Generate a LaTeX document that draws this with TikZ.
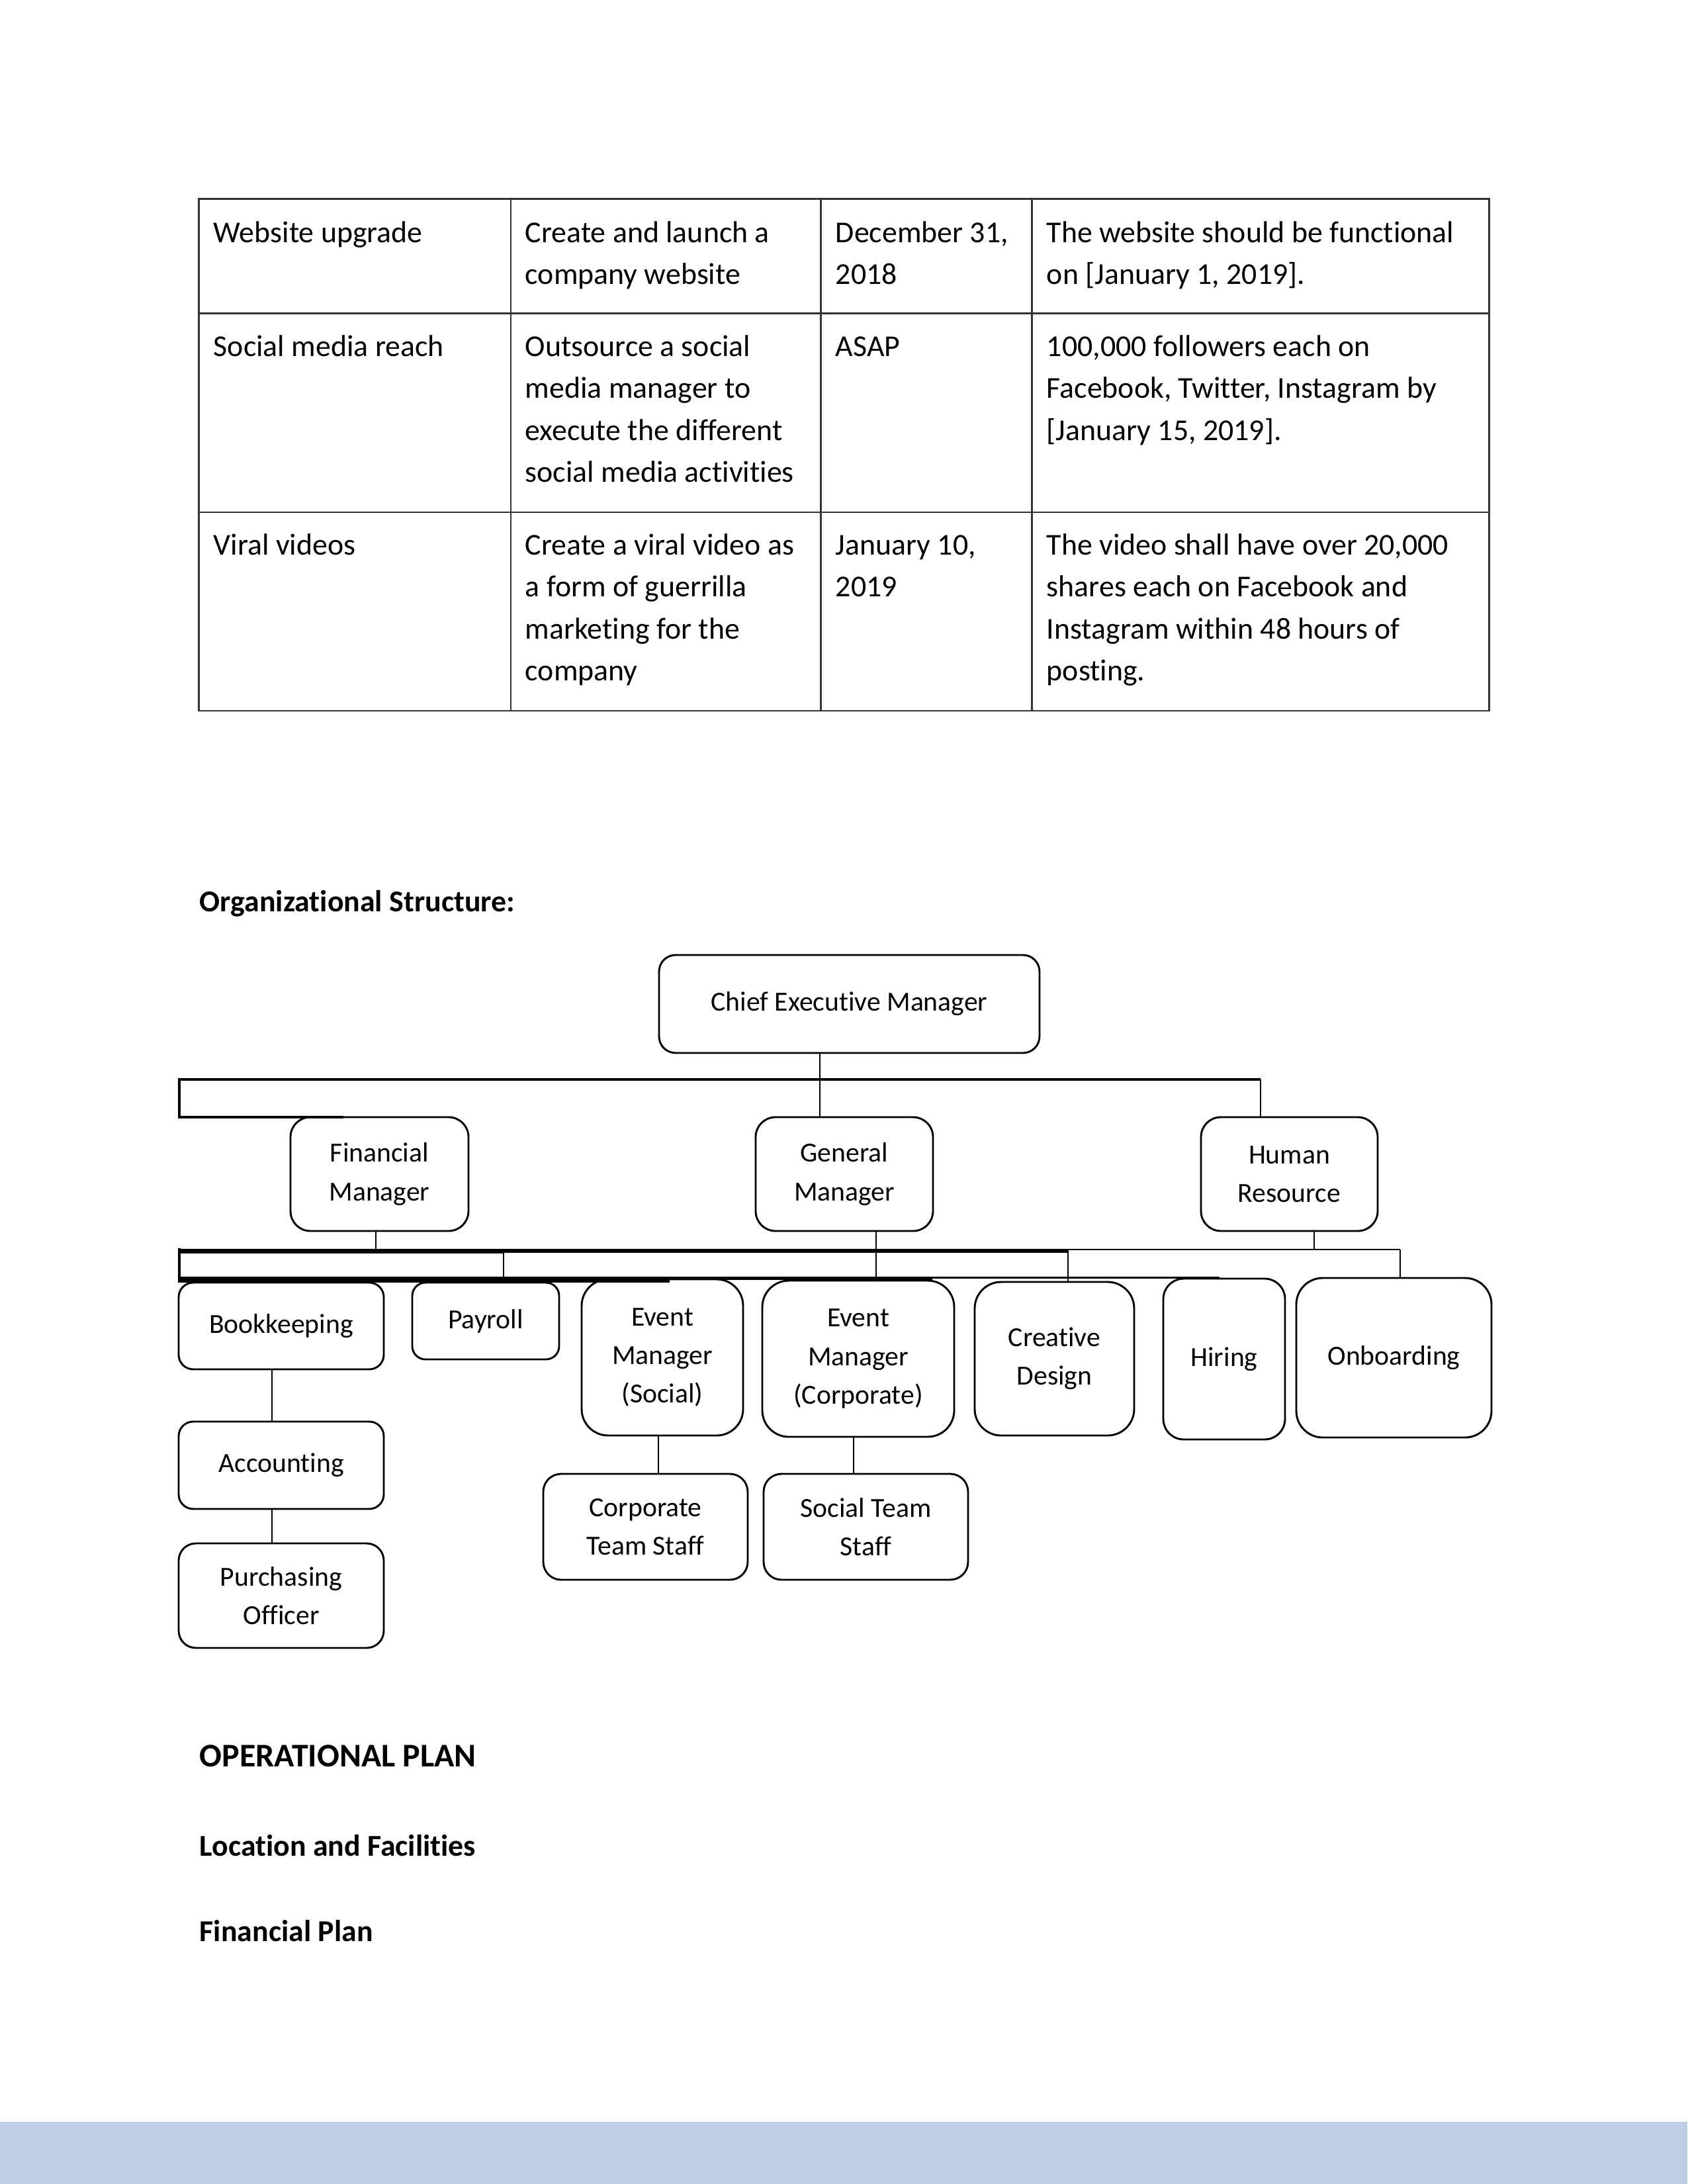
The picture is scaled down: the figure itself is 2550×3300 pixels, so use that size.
\documentclass[tikz,border=0pt]{standalone}
\usepackage{fontspec}
\setmainfont{Carlito}[Ligatures={NoCommon,NoContextual,NoRequired},RawFeature={-calt}]
\definecolor{band}{HTML}{BDCDE3}
\begin{document}
\begin{tikzpicture}[x=0.24pt,y=-0.24pt,
  tline/.style={draw=black!80,line width=0.5pt},
  cell/.style={anchor=base west,inner sep=0pt,text width=#1,font=\fontsize{11}{15.27}\selectfont,execute at begin node={\raggedright\spaceskip=2.49pt plus 1pt minus 0.5pt\xspaceskip=2.49pt plus 1pt\relax}},
  head/.style={anchor=base west,inner sep=0pt,font=\bfseries\fontsize{11}{13}\selectfont},
  ob/.style n args={3}{draw,line width=0.7pt,rounded corners=#3*0.24pt,minimum width=#1*0.24pt,minimum height=#2*0.24pt,inner sep=0pt,align=center,font=\fontsize{10}{14}\selectfont},
  conn/.style={line width=0.6pt},
  busA/.style={line width=0.85pt},
  busB/.style={line width=0.7pt}]
\useasboundingbox (0,0) rectangle (2550,3300);
\fill[band] (0,3206) rectangle (2550,3300);

% ---------- table ----------
\draw[tline] (300.5,300.5) rectangle (2250.5,1074);
\draw[tline] (300.5,473.5) -- (2250.5,473.5);
\draw[tline] (300.5,774) -- (2250.5,774);
\draw[tline] (772,300.5) -- (772,1074);
\draw[tline] (1240.5,300.5) -- (1240.5,1074);
\draw[tline] (1559.5,300.5) -- (1559.5,1074);

\node[cell=110pt] (t11) at (322,366) {Website upgrade};
\node[cell=110pt] (t12) at (793,366) {Create and launch a\newline company website};
\node[cell=75pt] (t13) at (1262,366) {December 31,\newline 2018};
\node[cell=160pt] (t14) at (1581,366) {The website should be functional\newline on {[}January 1, 2019{]}.};

\node[cell=110pt] (t21) at (322,538) {Social media reach};
\node[cell=110pt] (t22) at (793,538) {Outsource a social\newline media manager to\newline execute the different\newline social media activities};
\node[cell=75pt] (t23) at (1262,538) {ASAP};
\node[cell=160pt] (t24) at (1581,538) {100,000 followers each on\newline Facebook, Twitter, Instagram by\newline {[}January 15, 2019{]}.};

\node[cell=110pt] (t31) at (322,838) {Viral videos};
\node[cell=110pt] (t32) at (793,838) {Create a viral video as\newline a form of guerrilla\newline marketing for the\newline company};
\node[cell=75pt] (t33) at (1262,838) {January 10,\newline 2019};
\node[cell=160pt] (t34) at (1581,838) {The video shall have over 20,000\newline shares each on Facebook and\newline Instagram within 48 hours of\newline posting.};

% ---------- headings ----------
\node[head] (h1) at (301,1377) {Organizational Structure:};
\node[head,font=\bfseries\fontsize{12}{14}\selectfont] (h2) at (301,2669) {OPERATIONAL PLAN};
\node[head] (h3) at (301,2804) {Location and Facilities};
\node[head] (h4) at (301,2933) {Financial Plan};

% ---------- org chart nodes ----------
\node[ob={575}{148}{25}] (ceo) at (1283.5,1517) {Chief Executive Manager};
\node[ob={269}{172}{30}] (fm) at (573.5,1774) {Financial\\Manager};
\node[ob={268}{172}{30}] (gm) at (1276,1774) {General\\Manager};
\node[ob={267}{172}{30}] (hr) at (1948.5,1774) {Human\\Resource};
\node[ob={310}{131}{22}] (book) at (425,2003.5) {Bookkeeping};
\node[ob={222}{116}{20}] (pay) at (734,1996) {Payroll};
\node[ob={244}{236}{40}] (ems) at (1001,2051) {Event\\Manager\\(Social)};
\node[ob={290}{236}{40}] (emc) at (1297,2053) {Event\\Manager\\(Corporate)};
\node[ob={241}{232}{40}] (cre) at (1593.5,2053) {Creative\\Design};
\node[ob={184}{243}{31}] (hir) at (1850,2053.5) {Hiring};
\node[ob={295}{241}{40}] (onb) at (2106.5,2051.5) {Onboarding};
\node[ob={310}{132}{22}] (acc) at (425,2214) {Accounting};
\node[ob={310}{158}{26}] (po) at (425,2411) {Purchasing\\Officer};
\node[ob={309}{160}{27}] (cts) at (975.5,2307) {Corporate\\Team Staff};
\node[ob={309}{160}{27}] (sts) at (1308.5,2307) {Social Team\\Staff};

% ---------- bus coordinates ----------
\coordinate (a0) at (271,1688);
\coordinate (a1) at (519,1688);
\coordinate (a2) at (271,1631);
\coordinate (a3) at (1905,1631);
\coordinate (a4) at (1239,1631);
\coordinate (m0) at (271,1888);
\coordinate (m1) at (2116,1888);
\coordinate (m2) at (1614,1888);
\coordinate (m3) at (568,1888);
\coordinate (m4) at (1986,1888);
\coordinate (m5) at (1324,1888);
\coordinate (t0) at (271,1890);
\coordinate (t1) at (1614,1890);
\coordinate (n0) at (271,1893);
\coordinate (n1) at (761,1893);
\coordinate (n2) at (761,1930);
\coordinate (p0) at (271,1930.5);
\coordinate (p1) at (1843,1930.5);
\coordinate (p2) at (271,1931.8);
\coordinate (p3) at (1409,1931.8);
\coordinate (p4) at (271,1933.5);
\coordinate (p5) at (1012,1933.5);
\coordinate (v0) at (271,1886);
\coordinate (v1) at (271,1938);
\coordinate (q) at (411,0);
\coordinate (r) at (995,0);
\coordinate (s) at (1290,0);

% ---------- connectors ----------
\draw[conn] (ceo.south -| a4) -- (gm.north -| a4);
\draw[busA] (a1) -- (a0) -- (a2) -- (a3);
\draw[conn] (a3) -- (hr.north -| a3);

\draw[conn] (fm.south -| m3) -- (m3);
\draw[conn] (hr.south -| m4) -- (m4);
\draw[conn] (gm.south -| m5) -- (emc.north -| m5);
\draw[busB] (m0) -- (m1);
\draw[conn] (m1) -- (onb.north -| m1);
\draw[line width=1.4pt] (t0) -- (t1);
\draw[conn] (m2) -- (cre.north -| m2);
\draw[conn] (n0) -- (n1) -- (n2);
\draw[busB] (p0) -- (p1);
\draw[line width=1.1pt] (p2) -- (p3);
\draw[line width=2pt] (p4) -- (p5);
\draw[line width=1pt] (v0) -- (v1);

\draw[conn] (book.south -| q) -- (acc.north -| q);
\draw[conn] (acc.south -| q) -- (po.north -| q);
\draw[conn] (ems.south -| r) -- (cts.north -| r);
\draw[conn] (emc.south -| s) -- (sts.north -| s);
\end{tikzpicture}
\end{document}
